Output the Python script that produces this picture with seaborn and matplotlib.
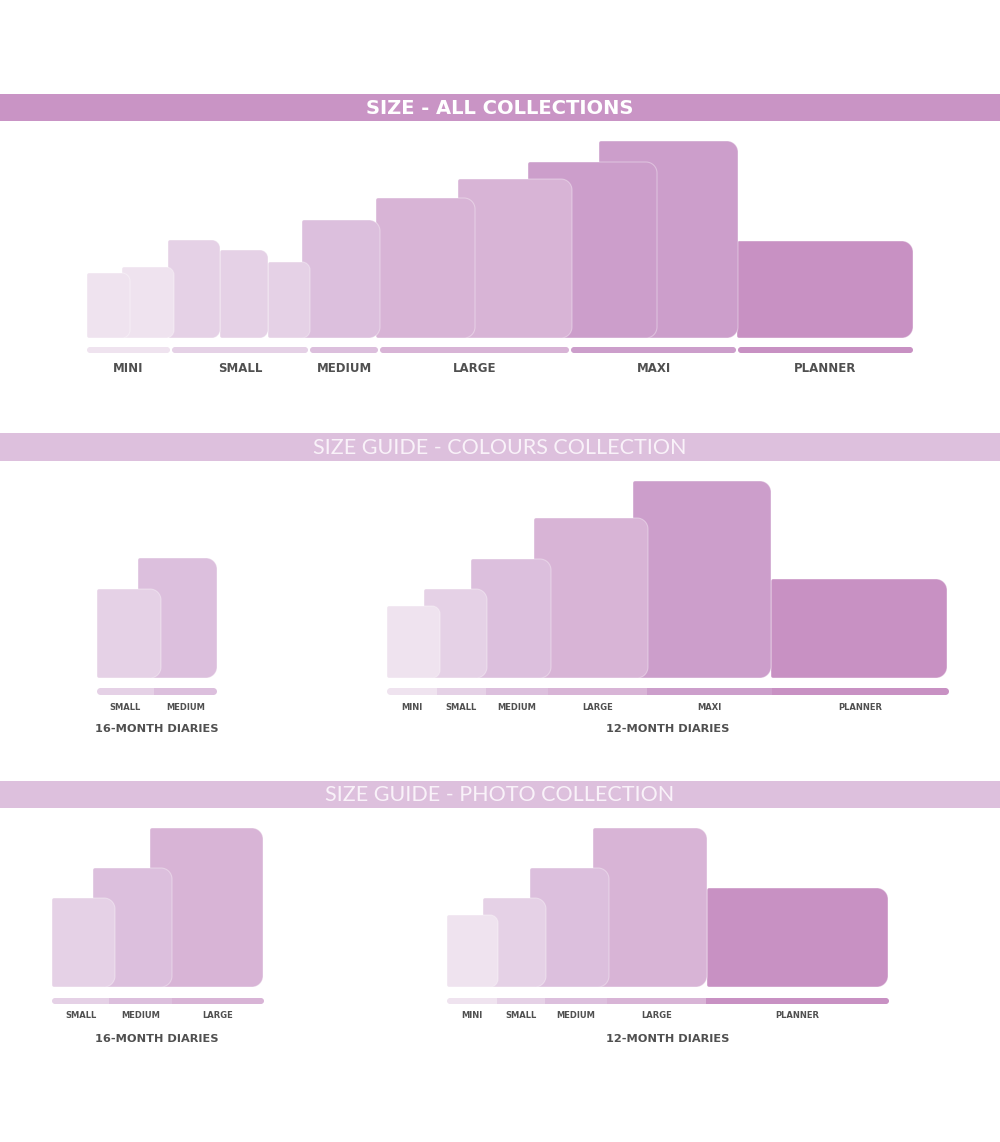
import numpy as np
import matplotlib
matplotlib.use("Agg")
import matplotlib.pyplot as plt
from matplotlib.path import Path
from matplotlib.patches import PathPatch
import seaborn as sns

# ---------------- data ----------------
SIZE_NAMES = ["MINI", "SMALL", "MEDIUM", "LARGE", "MAXI", "PLANNER"]

# Section 1: all collections (book category, width, height in px)
all_book_size = ["MINI", "MINI", "SMALL", "SMALL", "SMALL", "MEDIUM",
                 "LARGE", "LARGE", "MAXI", "MAXI", "PLANNER"]
all_book_width = [43, 52, 52, 48, 42, 78, 99, 114, 129, 139, 176]
all_book_height = [65, 71, 98, 88, 76, 118, 140, 159, 176, 197, 97]
all_bar_sizes = ["MINI", "SMALL", "MEDIUM", "LARGE", "MAXI", "PLANNER"]

# Section 2: colours collection
col16_size = ["SMALL", "MEDIUM"]
col16_width = [64, 79]
col16_height = [89, 120]
col12_size = ["MINI", "SMALL", "MEDIUM", "LARGE", "MAXI", "PLANNER"]
col12_width = [53, 63, 80, 114, 138, 176]
col12_height = [72, 89, 119, 160, 197, 99]

# Section 3: photo collection
pho16_size = ["SMALL", "MEDIUM", "LARGE"]
pho16_width = [63, 79, 113]
pho16_height = [89, 119, 159]
pho12_size = ["MINI", "SMALL", "MEDIUM", "LARGE", "PLANNER"]
pho12_width = [51, 63, 79, 114, 181]
pho12_height = [72, 89, 119, 159, 99]

TITLES = ["SIZE - ALL COLLECTIONS",
          "SIZE GUIDE - COLOURS COLLECTION",
          "SIZE GUIDE - PHOTO COLLECTION"]
SUBTITLES = ["16-MONTH DIARIES", "12-MONTH DIARIES"]

# ---------------- layout / style ----------------
SIZE_COLORS = dict(zip(SIZE_NAMES, ["#efe3ef", "#e5d1e6", "#dcbfdd",
                                    "#d8b4d6", "#cc9ecb", "#c891c3"]))
BANNER_DARK = "#c994c5"
BANNER_LIGHT = "#ddc0dd"
TEXT_GREY = "#505050"

sns.set_theme(style="white")
plt.rcParams["font.family"] = ["DejaVu Sans"]

fig = plt.figure(figsize=(10, 11.42), dpi=100)
ax = fig.add_axes([0, 0, 1, 1])
ax.set_xlim(0, 1000)
ax.set_ylim(1142, 0)
ax.axis("off")

K = 0.5523


def rrect(x0, x1, y0, y1, rl, rr):
    """Rounded rectangle path; y0 = top (small), y1 = bottom."""
    verts = [(x0 + rl, y0), (x1 - rr, y0),
             (x1 - rr + K * rr, y0), (x1, y0 + rr - K * rr), (x1, y0 + rr),
             (x1, y1 - rr),
             (x1, y1 - rr + K * rr), (x1 - rr + K * rr, y1), (x1 - rr, y1),
             (x0 + rl, y1),
             (x0 + rl - K * rl, y1), (x0, y1 - rl + K * rl), (x0, y1 - rl),
             (x0, y0 + rl),
             (x0, y0 + rl - K * rl), (x0 + rl - K * rl, y0), (x0 + rl, y0),
             (x0 + rl, y0)]
    codes = ([Path.MOVETO, Path.LINETO] + [Path.CURVE4] * 3 + [Path.LINETO]
             + [Path.CURVE4] * 3 + [Path.LINETO] + [Path.CURVE4] * 3
             + [Path.LINETO] + [Path.CURVE4] * 3 + [Path.CLOSEPOLY])
    return Path(verts, codes)


def banner(y0, y1, color, text, weight, size, tcolor, family):
    ax.add_patch(PathPatch(rrect(0, 1000, y0, y1, 0, 0), fc=color, ec="none"))
    ax.text(500, (y0 + y1) / 2 + 0.5, text, ha="center", va="center",
            color=tcolor, fontsize=size, fontweight=weight, family=family)


def books(lefts, sizes, widths, heights, base):
    items = list(zip(lefts, sizes, widths, heights))
    for left, s, w, h in reversed(items):
        r = 8 if w < 56 else 11
        p = rrect(left, left + w, base - h, base, 2, r)
        ax.add_patch(PathPatch(p, fc=SIZE_COLORS[s],
                               ec=(1, 1, 1, 0.35), lw=0.8))


def bars(edges, sizes, y0, y1, separated, label_y, fsize):
    n = len(sizes)
    rad = (y1 - y0) / 2
    for i, s in enumerate(sizes):
        a, b = edges[i], edges[i + 1]
        if separated:
            p = rrect(a + 1, b - 1, y0, y1, rad, rad)
        else:
            p = rrect(a, b, y0, y1, rad if i == 0 else 0,
                      rad if i == n - 1 else 0)
        ax.add_patch(PathPatch(p, fc=SIZE_COLORS[s], ec="none"))
        ax.text((a + b) / 2, label_y, s, ha="center", va="center",
                fontsize=fsize, fontweight="bold", color=TEXT_GREY)


# ---------------- section 1 ----------------
banner(94, 121, BANNER_DARK, TITLES[0], "bold", 14, "white", ["DejaVu Sans"])
all_left = [87, 122, 168, 220, 268, 302, 376, 458, 528, 599, 737]
books(all_left, all_book_size, all_book_width, all_book_height, 338)
bars([86, 171, 309, 379, 570, 737, 914], all_bar_sizes, 347, 353, True, 369, 8.5)

# ---------------- section 2 ----------------
banner(433, 461, BANNER_LIGHT, TITLES[1], "normal", 15.5, "#f9f2f9",
       ["Lato", "DejaVu Sans"])
books([97, 138], col16_size, col16_width, col16_height, 678)
bars([97, 154, 217], col16_size, 688, 695, False, 707, 6)
ax.text(157, 729, SUBTITLES[0], ha="center", va="center", fontsize=8.2,
        fontweight="bold", color=TEXT_GREY)
books([387, 424, 471, 534, 633, 771], col12_size, col12_width, col12_height, 678)
bars([387, 437, 486, 548, 647, 772, 949], col12_size, 688, 695, False, 707, 6)
ax.text(668, 729, SUBTITLES[1], ha="center", va="center", fontsize=8.2,
        fontweight="bold", color=TEXT_GREY)

# ---------------- section 3 ----------------
banner(781, 808, BANNER_LIGHT, TITLES[2], "normal", 15.5, "#f9f2f9",
       ["Lato", "DejaVu Sans"])
books([52, 93, 150], pho16_size, pho16_width, pho16_height, 987)
bars([52, 109, 172, 264], pho16_size, 998, 1004, False, 1016, 6)
ax.text(157, 1039, SUBTITLES[0], ha="center", va="center", fontsize=8.2,
        fontweight="bold", color=TEXT_GREY)
books([447, 483, 530, 593, 707], pho12_size, pho12_width, pho12_height, 987)
bars([447, 497, 545, 607, 706, 889], pho12_size, 998, 1004, False, 1016, 6)
ax.text(668, 1039, SUBTITLES[1], ha="center", va="center", fontsize=8.2,
        fontweight="bold", color=TEXT_GREY)

fig.savefig("out.png", dpi=100, facecolor="white")
